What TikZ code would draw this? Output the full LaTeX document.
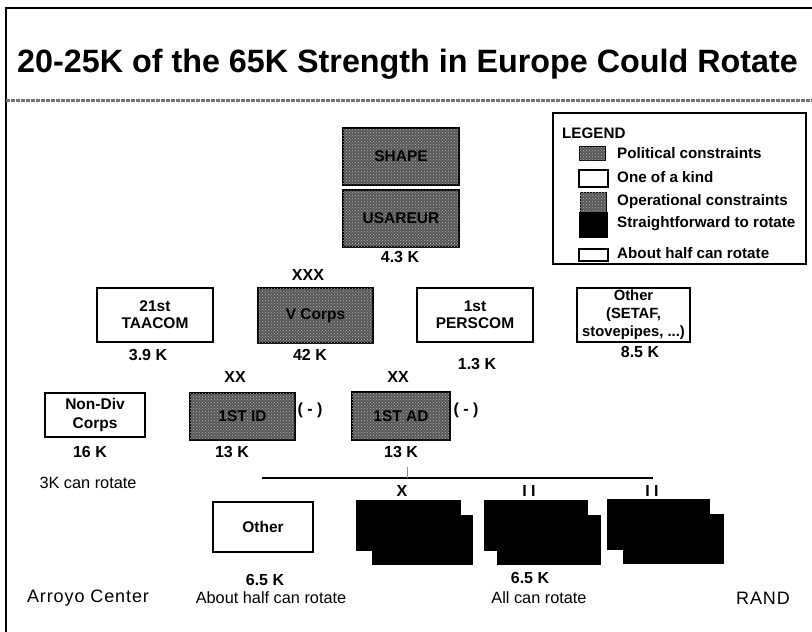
\documentclass[tikz,border=0pt]{standalone}
\usepackage{fontspec}
\setmainfont{Liberation Sans}
\usetikzlibrary{patterns}
\begin{document}
\begin{tikzpicture}[x=1pt,y=-1pt,
  unitbox/.style={draw=black, line width=2.4pt, align=center, inner sep=0pt, outer sep=0pt,
    font=\fontsize{15.5}{17}\selectfont\bfseries},
  textured/.style={unitbox, fill=black!66, postaction={pattern=crosshatch dots, pattern color=black!30}},
  plainbox/.style={unitbox, fill=white},
  blk/.style={fill=black, draw=none, inner sep=0pt, outer sep=0pt},
  lbl/.style={inner sep=0pt, font=\fontsize{16}{18}\selectfont\bfseries},
  note/.style={inner sep=0pt, font=\fontsize{16.3}{18}\selectfont},
  legtxt/.style={inner sep=0pt, anchor=west, font=\fontsize{15.2}{17}\selectfont\bfseries},
  brand/.style={inner sep=0pt, font=\fontsize{18}{20}\selectfont\addfontfeatures{LetterSpace=5}},
]
\useasboundingbox (0,0) rectangle (812,632);
\fill[white] (0,0) rectangle (812,632);
% frame
\draw[line width=2pt] (6,632) -- (6,8) -- (812,8);
\draw[black!55, line width=3pt, dash pattern=on 4pt off 1pt] (6,100) -- (812,100);
% title
\node[inner sep=0pt, anchor=base west, font=\fontsize{32.3}{36}\selectfont\bfseries] (title) at (17,72)
  {20-25K of the 65K Strength in Europe Could Rotate};

% top
\node[textured, minimum width=116pt, minimum height=57pt] (shape) at (401,156.5) {SHAPE};
\node[textured, minimum width=116pt, minimum height=57pt] (usareur) at (401,218.5) {USAREUR};
\node[lbl] (k43) at (400,257) {4.3 K};

% legend
\draw[line width=2.4pt, fill=white] (553,113) rectangle (806,264);
\node[legtxt] (legend) at (562,133) {LEGEND};
\node[textured, minimum width=26pt, minimum height=14pt, line width=1pt] (sw1) at (592,153) {};
\node[legtxt] (lt1) at (617,153) {Political constraints};
\node[plainbox, minimum width=29pt, minimum height=17pt, line width=1.8pt] (sw2) at (593.5,178.5) {};
\node[legtxt] (lt2) at (617,177) {One of a kind};
\node[textured, minimum width=26pt, minimum height=21pt, line width=1pt] (sw3) at (593,202.5) {};
\node[legtxt] (lt3) at (617,202) {Operational constraints};
\node[blk, minimum width=29pt, minimum height=26pt] (sw4) at (593.5,225) {};
\node[legtxt] (lt4) at (617,224) {Straightforward to rotate};
\node[plainbox, minimum width=29pt, minimum height=12pt, line width=1.8pt] (sw5) at (593.5,255) {};
\node[legtxt] (lt5) at (617,253) {About half can rotate};

% row 2
\node[lbl] (xxx) at (308,275) {XXX};
\node[plainbox, minimum width=116pt, minimum height=54pt] (taacom) at (155,315) {21st\\TAACOM};
\node[textured, minimum width=115pt, minimum height=55pt] (vcorps) at (315.5,315.5) {V Corps};
\node[plainbox, minimum width=116pt, minimum height=54pt] (perscom) at (475,315) {1st\\PERSCOM};
\node[plainbox, minimum width=113pt, minimum height=54pt, font=\fontsize{14.8}{18}\selectfont\bfseries] (other1) at (633.5,315) {Other\\(SETAF,\\stovepipes, ...)};
\node[lbl] (k39) at (148,355) {3.9 K};
\node[lbl] (k42) at (310,355) {42 K};
\node[lbl] (k13a) at (477,364) {1.3 K};
\node[lbl] (k85) at (640,352) {8.5 K};

% row 3
\node[lbl] (xx1) at (235,377) {XX};
\node[lbl] (xx2) at (398,377) {XX};
\node[plainbox, minimum width=100pt, minimum height=44pt, font=\fontsize{15.5}{19}\selectfont\bfseries] (nondiv) at (95,415) {Non-Div\\Corps};
\node[textured, minimum width=105pt, minimum height=47pt] (id) at (242.5,416.5) {1ST ID};
\node[lbl] (idm) at (310,410) {( - )};
\node[textured, minimum width=98pt, minimum height=48pt] (ad) at (401,416) {1ST AD};
\node[lbl] (adm) at (466,410) {( - )};
\node[lbl] (k16) at (90,452) {16 K};
\node[lbl] (k13b) at (232,452) {13 K};
\node[lbl] (k13c) at (401,452) {13 K};
\node[note] (can3) at (88,483) {3K can rotate};

% bus line
\coordinate (busL) at (262,478);
\coordinate (busR) at (653,478);
\coordinate (tick) at (407,467);
\draw[line width=2.6pt] (busL) -- (busR);
\draw[black!45, line width=0.8pt] (tick) -- (tick |- busL);
\node[lbl] (bx) at (402,491) {X};
\node[lbl] (b2a) at (529,491) {I I};
\node[lbl] (b2b) at (652,491) {I I};

% bottom units
\node[plainbox, minimum width=100pt, minimum height=50pt] (other2) at (263,527) {Other};
\node[blk, minimum width=105pt, minimum height=51pt] (bde1) at (408.5,525.5) {};
\node[blk, minimum width=101pt, minimum height=50pt] (bde2) at (422.5,540) {};
\node[blk, minimum width=104pt, minimum height=51pt] (bnA1) at (536,525.5) {};
\node[blk, minimum width=104pt, minimum height=50pt] (bnA2) at (549,540) {};
\node[blk, minimum width=103pt, minimum height=51pt] (bnB1) at (658.5,524.5) {};
\node[blk, minimum width=101pt, minimum height=50pt] (bnB2) at (673.5,539) {};

\node[lbl] (k65a) at (265,580) {6.5 K};
\node[note] (half) at (271,598) {About half can rotate};
\node[lbl] (k65b) at (530,578) {6.5 K};
\node[note] (all) at (539,598) {All can rotate};

\node[brand] (arroyo) at (88,598) {Arroyo Center};
\node[brand] (rand) at (763,598) {RAND};
\end{tikzpicture}
\end{document}
